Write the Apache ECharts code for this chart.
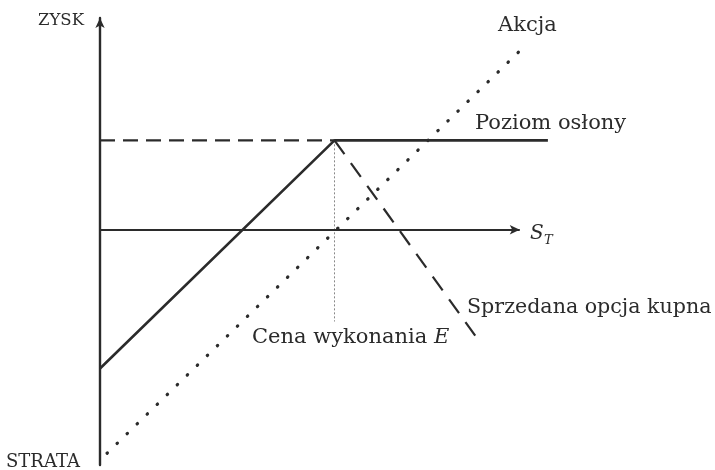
<!DOCTYPE html>
<html>
<head>
<meta charset="utf-8">
<script src="https://cdn.jsdelivr.net/npm/echarts@6/dist/echarts.min.js"></script>
<style>
  html, body { margin: 0; padding: 0; background: #fff; }
  #main { width: 715px; height: 470px; }
</style>
</head>
<body>
<div id="main"></div>
<script>
// osie
var xMin = 0, xMax = 200;
var yMin = -100, yMax = 90;
// koniec strzalki osi S_T
var xArrowEnd = 179;

// pozycja zabezpieczona (akcja + sprzedana opcja kupna)
var coveredX = [0, 100, 191];
var coveredY = [-59, 38, 38];
// poziom oslony - przerywana do osi
var levelX = [0, 100];
var levelY = [38, 38];
// sprzedana opcja kupna
var shortCallX = [100, 160];
var shortCallY = [38, -45];
// akcja
var stockX = [3, 180];
var stockY = [-95, 77];
// cena wykonania E
var strikeX = [100, 100];
var strikeY = [38, -39];

function pts(xs, ys) {
  var out = [];
  for (var i = 0; i < xs.length; i++) out.push([xs[i], ys[i]]);
  return out;
}

var ink = '#2b2b2b';
var serif = 'DejaVu Serif';

var chart = echarts.init(document.getElementById('main'), null, { renderer: 'canvas' });

var option = {
  animation: false,
  backgroundColor: '#fff',
  grid: { left: 100, top: 18, width: 469, height: 447 },
  xAxis: {
    type: 'value', min: xMin, max: xMax,
    axisLine: { show: false },
    axisTick: { show: false }, axisLabel: { show: false }, splitLine: { show: false }
  },
  yAxis: {
    type: 'value', min: yMin, max: yMax,
    axisLine: { onZero: false, symbol: ['none', 'arrow'], symbolSize: [7, 10], lineStyle: { color: ink, width: 2.4 } },
    axisTick: { show: false }, axisLabel: { show: false }, splitLine: { show: false }
  },
  series: [
    {
      // os S_T ze strzalka
      type: 'line', data: [], symbol: 'none',
      markLine: {
        silent: true, symbol: ['none', 'arrow'], symbolSize: [7, 10],
        label: { show: false },
        lineStyle: { color: ink, width: 2.2, type: 'solid' },
        data: [[{ coord: [xMin, 0] }, { coord: [xArrowEnd, 0] }]]
      }
    },
    {
      type: 'line', data: pts(strikeX, strikeY), symbol: 'none', z: 1,
      lineStyle: { color: '#888', width: 1, type: [2, 2] }
    },
    {
      type: 'line', data: pts(levelX, levelY), symbol: 'none',
      lineStyle: { color: ink, width: 2.2, type: [15, 8] }
    },
    {
      type: 'line', data: pts(shortCallX, shortCallY), symbol: 'none',
      lineStyle: { color: ink, width: 2.2, type: [17, 11] }
    },
    {
      type: 'line', data: pts(stockX, stockY), symbol: 'none',
      lineStyle: { color: ink, width: 3.2, type: [0.5, 13.5], cap: 'round' }
    },
    {
      type: 'line', data: pts(coveredX, coveredY), symbol: 'none',
      lineStyle: { color: ink, width: 2.6 }
    }
  ],
  graphic: [
    { type: 'text', left: 38, top: 12, style: { text: 'ZYSK', font: '16.5px ' + serif, fill: ink } },
    { type: 'text', left: 6, top: 453, style: { text: 'STRATA', font: '18px ' + serif, fill: ink } },
    { type: 'text', left: 498, top: 15, style: { text: 'Akcja', font: '21px ' + serif, fill: ink } },
    { type: 'text', left: 475, top: 113, style: { text: 'Poziom osłony', font: '21px ' + serif, fill: ink } },
    { type: 'text', left: 530, top: 224, style: { text: 'S', font: 'italic 20px ' + serif, fill: ink } },
    { type: 'text', left: 544, top: 234, style: { text: 'T', font: 'italic 13px ' + serif, fill: ink } },
    { type: 'text', left: 467, top: 297, style: { text: 'Sprzedana opcja kupna', font: '20.6px ' + serif, fill: ink } },
    {
      type: 'text', left: 252, top: 327,
      style: {
        text: 'Cena wykonania {e|E}', font: '21px ' + serif, fill: ink,
        rich: { e: { fontFamily: serif, fontSize: 21, fontStyle: 'italic', fill: ink } }
      }
    }
  ]
};

chart.setOption(option);
</script>
</body>
</html>
